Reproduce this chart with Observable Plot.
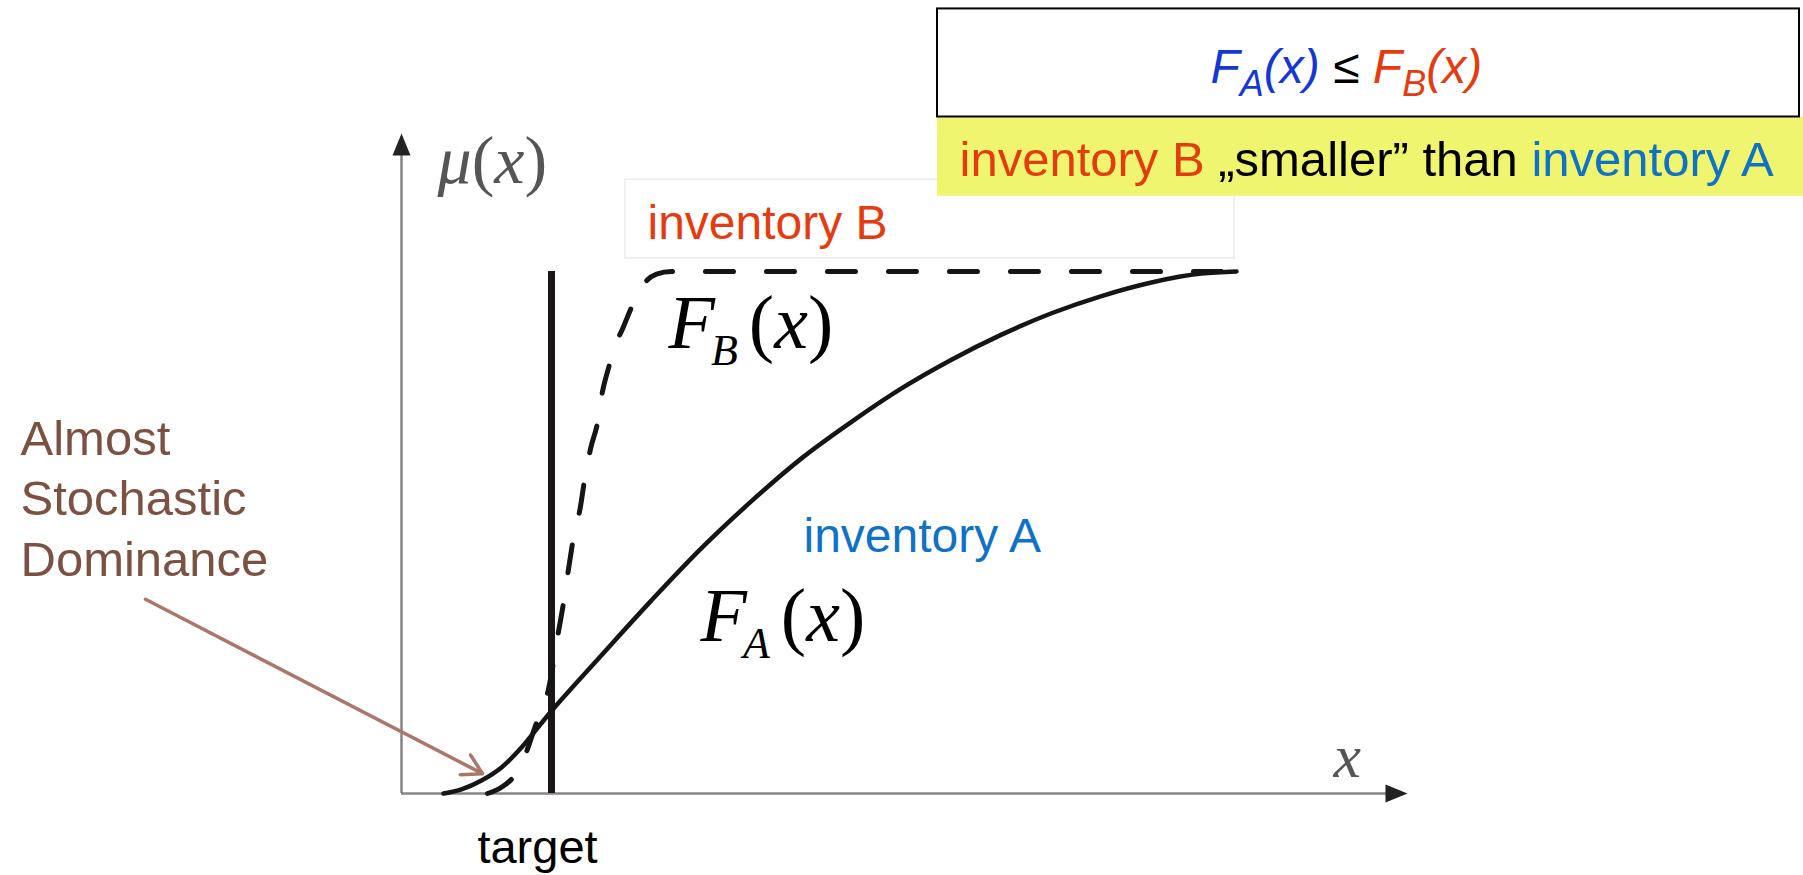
<!DOCTYPE html>
<html><head><meta charset="utf-8">
<script src="https://cdn.jsdelivr.net/npm/d3@7"></script>
<script src="https://cdn.jsdelivr.net/npm/@observablehq/plot@0.6"></script>
<style>html,body{margin:0;padding:0;background:#fff}svg{display:block}</style>
</head><body><div id="chart"></div>
<script>
// ---- data (x in arbitrary units, mu = cumulative membership) ----
const invA_x  = [0.42, 0.6, 0.8, 1.0, 1.2, 1.4, 1.5, 1.75, 2.0, 2.5, 3.0, 3.5, 4.0, 4.5, 5.0, 5.5, 6.0, 6.5, 7.0, 7.5, 8.0, 8.35];
const invA_mu = [0, 0.008, 0.025, 0.05, 0.088, 0.135, 0.158, 0.212, 0.265, 0.37, 0.47, 0.56, 0.642, 0.712, 0.776, 0.831, 0.879, 0.92, 0.953, 0.979, 0.996, 1.0];
const invB_x  = [0.86, 1.0, 1.12, 1.24, 1.34, 1.47, 1.57, 1.62, 1.67, 1.72, 1.79, 1.83, 1.89, 1.96, 2.01, 2.07, 2.14, 2.21, 2.32, 2.42, 2.55, 2.7, 8.35];
const invB_mu = [0, 0.012, 0.032, 0.075, 0.13, 0.2, 0.31, 0.365, 0.43, 0.49, 0.55, 0.6, 0.66, 0.71, 0.77, 0.815, 0.86, 0.89, 0.94, 0.975, 0.995, 1.0, 1.0];
const targetX = [1.5];
const labels = {
  yAxis: "μ(x)", xAxis: "x", target: "target",
  note: "Almost\nStochastic\nDominance",
  invA: "inventory A", invB: "inventory B",
  FA: "FA(x)", FB: "FB(x)",
  formula: "FA(x) ≤ FB(x)",
  caption: "inventory B „smaller” than inventory A"
};

const seriesA = invA_x.map((x, i) => ({x, mu: invA_mu[i]}));
const seriesB = invB_x.map((x, i) => ({x, mu: invB_mu[i]}));

const RED = "#e43c10", BLUE = "#1072c4", BROWN = "#7b5242", ARROW = "#a9786a";
const SANS = "Liberation Sans, Arial, sans-serif", SERIF = "Liberation Serif, Times New Roman, serif";

const plot = Plot.plot({
  width: 1803, height: 875, margin: 0,
  x: {domain: [0, 10], range: [401, 1401]},
  y: {domain: [0, 1], range: [793, 271]},
  axis: null,
  marks: [
    // inventory B label box
    Plot.rect([{}], {x1: 2.24, x2: 8.33, y1: 1.025, y2: 1.176, fill: "white", stroke: "#ececec", strokeWidth: 1.5}),
    Plot.text([labels.invB], {x: 2.46, y: 1.063, text: d => d, textAnchor: "start", lineAnchor: "bottom", fill: RED, fontSize: 48, fontFamily: SANS}),
    // top boxes
    Plot.rect([{}], {x1: 5.36, x2: 14.02, y1: 1.144, y2: 1.296, fill: "#eff56e"}),
    Plot.rect([{}], {x1: 5.36, x2: 13.98, y1: 1.296, y2: 1.503, fill: "white", stroke: "black", strokeWidth: 2}),
    Plot.text([labels.formula], {x: 8.09, y: 1.362, text: d => d, textAnchor: "start", lineAnchor: "bottom", fontSize: 48, fontFamily: SANS}),
    Plot.text([labels.caption], {x: 5.58, y: 1.182, text: d => d, textAnchor: "start", lineAnchor: "bottom", fontSize: 49, fontFamily: SANS}),
    // axes
    Plot.ruleY([0], {x1: 0, x2: 9.9, stroke: "#858585", strokeWidth: 2.5}),
    Plot.ruleX([0], {y1: 0, y2: 1.23, stroke: "#858585", strokeWidth: 2.5}),
    Plot.vector([{x: 9.84, y: 0, r: 90}], {x: "x", y: "y", rotate: "r", length: 22, shape: "spike", r: 9, anchor: "start", fill: "#222", stroke: "none"}),
    Plot.vector([{x: 0, y: 1.222, r: 0}], {x: "x", y: "y", rotate: "r", length: 22, shape: "spike", r: 9, anchor: "start", fill: "#222", stroke: "none"}),
    Plot.text([labels.yAxis], {x: 0.36, y: 1.17, text: d => d, textAnchor: "start", lineAnchor: "bottom", fill: "#555", fontSize: 68, fontFamily: SERIF}),
    Plot.text([labels.xAxis], {x: 9.32, y: 0.031, text: d => d, textAnchor: "start", lineAnchor: "bottom", fill: "#555", fontSize: 62, fontStyle: "italic", fontFamily: SERIF}),
    // target
    Plot.ruleX(targetX, {y1: 0, y2: 1, stroke: "#1c1616", strokeWidth: 7}),
    Plot.text([labels.target], {x: 1.36, y: -0.134, text: d => d, textAnchor: "middle", lineAnchor: "bottom", fill: "black", fontSize: 47, fontFamily: SANS}),
    // distributions
    Plot.line(seriesB, {x: "x", y: "mu", curve: "monotone-x", stroke: "#151515", strokeWidth: 5, strokeDasharray: "28 33"}),
    Plot.line(seriesA, {x: "x", y: "mu", curve: "monotone-x", stroke: "#151515", strokeWidth: 4.5}),
    // labels
    Plot.text([labels.FB], {x: 2.67, y: 0.854, text: d => d, textAnchor: "start", lineAnchor: "bottom", fill: "black", fontSize: 76, fontFamily: SERIF}),
    Plot.text([labels.FA], {x: 2.99, y: 0.292, text: d => d, textAnchor: "start", lineAnchor: "bottom", fill: "black", fontSize: 76, fontFamily: SERIF}),
    Plot.text([labels.invA], {x: 4.02, y: 0.4617, text: d => d, textAnchor: "start", lineAnchor: "bottom", fill: BLUE, fontSize: 48, fontFamily: SANS}),
    // annotation
    Plot.text([labels.note], {x: -3.81, y: 0.4176, text: d => d, textAnchor: "start", lineAnchor: "bottom", lineHeight: 1.23, fill: BROWN, fontSize: 49, fontFamily: SANS}),
    Plot.arrow([{}], {x1: -2.56, y1: 0.372, x2: 0.81, y2: 0.038, stroke: ARROW, strokeWidth: 3.5, headLength: 9.5})
  ]
});
document.getElementById("chart").appendChild(plot);

// rich text (subscripts, italics, colours)
const BLUE2 = "#1438d4";
const rich = {
  [labels.FB]: [{t: "F", st: "italic"}, {t: "B", st: "italic", size: 44, dy: 17, dx: -4}, {t: "(", st: "normal", dy: -17, dx: 11}, {t: "x", st: "italic"}, {t: ")", st: "normal"}],
  [labels.FA]: [{t: "F", st: "italic"}, {t: "A", st: "italic", size: 44, dy: 17, dx: -4}, {t: "(", st: "normal", dy: -17, dx: 11}, {t: "x", st: "italic"}, {t: ")", st: "normal"}],
  [labels.yAxis]: [{t: "μ", st: "italic"}, {t: "(", st: "normal"}, {t: "x", st: "italic"}, {t: ")", st: "normal"}],
  [labels.formula]: [
    {t: "F", st: "italic", fill: BLUE2}, {t: "A", st: "italic", fill: BLUE2, size: 36, dy: 13}, {t: "(x)", st: "italic", fill: BLUE2, dy: -13},
    {t: " ≤ ", st: "normal", fill: "black"},
    {t: "F", st: "italic", fill: RED}, {t: "B", st: "italic", fill: RED, size: 36, dy: 13}, {t: "(x)", st: "italic", fill: RED, dy: -13}],
  [labels.caption]: [{t: "inventory B", fill: RED}, {t: " „smaller” than ", fill: "black"}, {t: "inventory A", fill: BLUE}]
};
d3.select(plot).selectAll("text").each(function () {
  const segs = rich[this.textContent];
  if (!segs) return;
  this.textContent = "";
  for (const s of segs) {
    const ts = document.createElementNS("http://www.w3.org/2000/svg", "tspan");
    ts.textContent = s.t;
    if (s.st) ts.setAttribute("font-style", s.st);
    if (s.size) ts.setAttribute("font-size", s.size);
    if (s.dy) ts.setAttribute("dy", s.dy);
    if (s.dx) ts.setAttribute("dx", s.dx);
    if (s.fill) ts.setAttribute("fill", s.fill);
    this.appendChild(ts);
  }
});
</script></body></html>
